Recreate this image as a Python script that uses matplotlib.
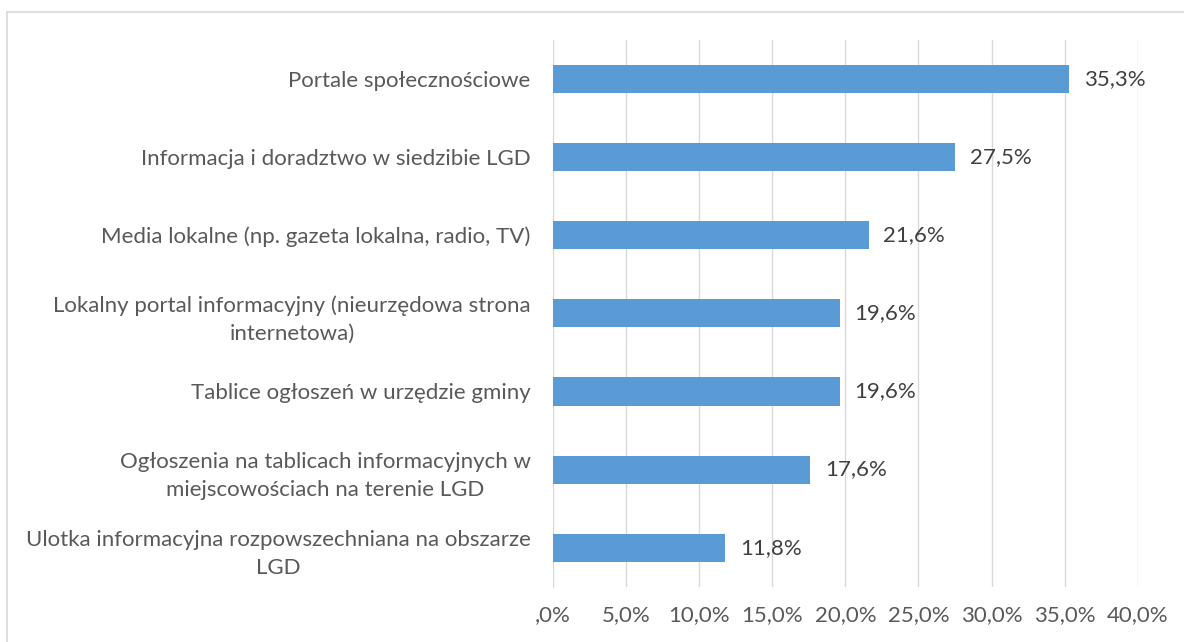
import matplotlib.pyplot as plt
from matplotlib.lines import Line2D

plt.rcParams['font.family'] = ['Lato', 'DejaVu Sans']

# categories from top to bottom
labels = [
    'Portale społecznościowe',
    'Informacja i doradztwo w siedzibie LGD',
    'Media lokalne (np. gazeta lokalna, radio, TV)',
    'Lokalny portal informacyjny (nieurzędowa strona\ninternetowa)',
    'Tablice ogłoszeń w urzędzie gminy',
    'Ogłoszenia na tablicach informacyjnych w\nmiejscowościach na terenie LGD',
    'Ulotka informacyjna rozpowszechniana na obszarze\nLGD',
]
values = [35.3, 27.5, 21.6, 19.6, 19.6, 17.6, 11.8]
ticks = [0, 5, 10, 15, 20, 25, 30, 35, 40]
tick_labels = [',0%', '5,0%', '10,0%', '15,0%', '20,0%', '25,0%', '30,0%', '35,0%', '40,0%']

text_col = '#595959'
value_col = '#404040'
bar_col = '#5B9BD5'
grid_col = '#D9D9D9'
fs = 16

fig = plt.figure(figsize=(11.84, 6.42), dpi=100)
ax = fig.add_axes([0.467, 0.086, 0.494, 0.852])

y = list(range(len(values)))
ax.barh(y, values, height=0.36, color=bar_col, zorder=3)
for yi, v in zip(y, values):
    ax.text(v + 1.0, yi, f'{v:.1f}%'.replace('.', ','), va='center', ha='left',
            fontsize=fs, color=value_col)

ax.set_xlim(0, 40)
ax.set_ylim(len(values) - 0.5, -0.5)
ax.set_xticks(ticks)
ax.set_xticklabels(tick_labels, fontsize=fs, color=text_col)
ax.set_yticks(y)
ax.set_yticklabels(labels, fontsize=fs, color=text_col, linespacing=1.5)
for t in ax.get_yticklabels():
    t.set_multialignment('center')
ax.tick_params(axis='y', length=0, pad=16)
ax.tick_params(axis='x', length=0, pad=13)

ax.grid(axis='x', color=grid_col, linewidth=1, zorder=0)
for s in ['top', 'right', 'bottom']:
    ax.spines[s].set_visible(False)
ax.spines['left'].set_color(grid_col)

# light frame around the chart area
fig.add_artist(Line2D([7 / 1184, 1.0], [1 - 12 / 642, 1 - 12 / 642], color=grid_col, lw=1.2))
fig.add_artist(Line2D([7 / 1184, 7 / 1184], [0, 1 - 12 / 642], color=grid_col, lw=1.2))

fig.savefig('out.png', dpi=100)
